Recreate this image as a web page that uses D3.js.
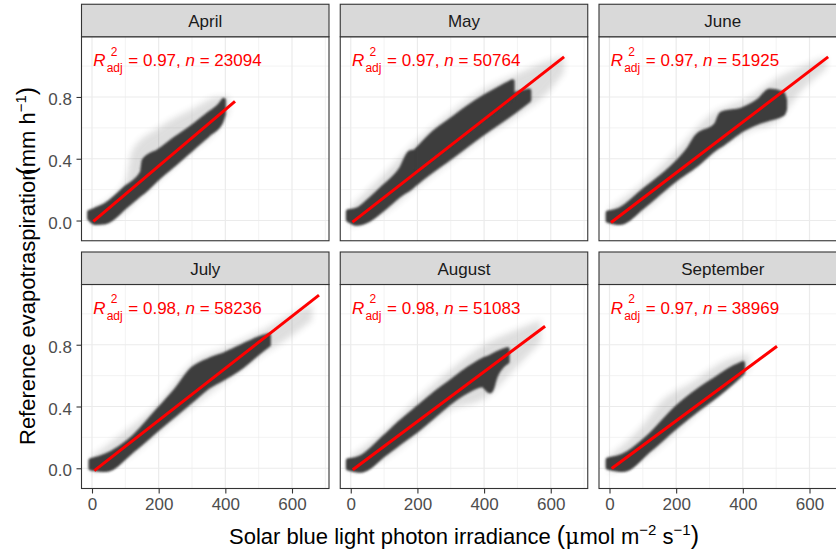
<!DOCTYPE html>
<html>
<head>
<meta charset="utf-8">
<script src="https://cdn.jsdelivr.net/npm/d3@7"></script>
<style>
  body { margin: 0; background: #fff; }
  svg { display: block; font-family: "Liberation Sans", Arial, sans-serif; }
</style>
</head>
<body>
<svg id="chart" width="836" height="553"></svg>
<script>
// values
var months = ["April", "May", "June", "July", "August", "September"];
var r2adj = ["0.97", "0.97", "0.97", "0.98", "0.98", "0.97"];
var nObs = ["23094", "50764", "51925", "58236", "51083", "38969"];
var xTicks = [0, 200, 400, 600];
var yTicks = [0.0, 0.4, 0.8];
var xMinor = [100, 300, 500, 700];
var yMinor = [0.2, 0.6, 1.0];

// fitted line ends [x, y]
var fitStart = [[4, -0.006], [5, -0.01], [4.5, -0.013], [7, -0.015], [6, -0.01], [6.5, -0.002]];
var fitEnd = [[429, 0.772], [640, 1.06], [656, 1.06], [681, 1.121], [583, 0.92], [502.5, 0.79]];

// dense point clouds as [x, low, high]
var aprilCore = [[-8, 0.015, 0.055], [10, -0.015, 0.07], [40, -0.01, 0.1], [100, 0.09, 0.21], [150, 0.18, 0.31], [156, 0.19, 0.39], [200, 0.28, 0.45], [250, 0.37, 0.53], [300, 0.465, 0.605], [350, 0.56, 0.69], [385, 0.63, 0.75], [395, 0.69, 0.78]];
var mayCore = [[-8, 0.005, 0.058], [20, -0.02, 0.07], [50, 0.0, 0.12], [100, 0.08, 0.22], [150, 0.17, 0.33], [178, 0.21, 0.44], [200, 0.25, 0.45], [300, 0.41, 0.6], [400, 0.57, 0.74], [480, 0.69, 0.81], [535, 0.78, 0.84]];
var mayUpper = [[200, 0.34, 0.46], [250, 0.42, 0.57], [300, 0.5, 0.65], [350, 0.58, 0.73], [400, 0.67, 0.8], [450, 0.74, 0.86], [485, 0.8, 0.9]];
var juneCore = [[-5, 0.0, 0.05], [30, -0.015, 0.07], [100, 0.09, 0.19], [200, 0.27, 0.37], [240, 0.33, 0.47], [260, 0.36, 0.54], [320, 0.47, 0.62], [335, 0.49, 0.69], [400, 0.59, 0.72], [450, 0.64, 0.78], [480, 0.66, 0.84], [520, 0.69, 0.82], [526, 0.72, 0.78]];
var julyCore = [[-4, 0.0, 0.05], [40, -0.01, 0.08], [124, 0.12, 0.2], [200, 0.26, 0.38], [250, 0.35, 0.5], [300, 0.44, 0.64], [350, 0.53, 0.7], [400, 0.59, 0.74], [450, 0.66, 0.79], [500, 0.75, 0.84], [530, 0.8, 0.86]];
var augustCore = [[-8, 0.0, 0.05], [30, -0.015, 0.07], [100, 0.09, 0.2], [150, 0.17, 0.3], [200, 0.25, 0.39], [250, 0.34, 0.48], [300, 0.43, 0.56], [350, 0.5, 0.64], [395, 0.54, 0.7], [418, 0.5, 0.72], [435, 0.6, 0.74], [470, 0.69, 0.77]];
var septemberCore = [[-5, 0.005, 0.055], [40, -0.01, 0.08], [120, 0.12, 0.21], [200, 0.27, 0.39], [270, 0.39, 0.51], [320, 0.47, 0.58], [370, 0.56, 0.65], [400, 0.62, 0.68]];

// faint halo around each cloud as [x, low, high]
var aprilHaze = [[0, -0.03, 0.08], [100, 0.06, 0.25], [120, 0.1, 0.45], [200, 0.26, 0.6], [300, 0.45, 0.72], [380, 0.6, 0.8], [410, 0.7, 0.8]];
var mayHaze = [[0, -0.04, 0.09], [100, 0.05, 0.3], [200, 0.22, 0.52], [300, 0.38, 0.7], [400, 0.54, 0.85], [500, 0.68, 0.95], [600, 0.85, 1.04], [640, 0.96, 1.06]];
var juneHaze = [[0, -0.03, 0.08], [100, 0.06, 0.24], [200, 0.24, 0.45], [300, 0.42, 0.68], [420, 0.58, 0.8], [500, 0.64, 0.92], [580, 0.85, 1.0], [650, 0.98, 1.06]];
var julyHaze = [[0, -0.03, 0.08], [100, 0.06, 0.24], [200, 0.23, 0.42], [300, 0.4, 0.68], [400, 0.56, 0.78], [500, 0.72, 0.88], [600, 0.86, 1.0], [660, 0.96, 1.06]];
var augustHaze = [[0, -0.03, 0.08], [100, 0.06, 0.24], [200, 0.22, 0.45], [300, 0.38, 0.64], [400, 0.45, 0.8], [500, 0.66, 0.9], [570, 0.82, 0.96]];
var septemberHaze = [[0, -0.03, 0.08], [100, 0.06, 0.28], [150, 0.14, 0.42], [250, 0.33, 0.56], [350, 0.52, 0.7], [420, 0.64, 0.74]];

var cores = [[aprilCore], [mayCore, mayUpper], [juneCore], [julyCore], [augustCore], [septemberCore]];
var hazes = [aprilHaze, mayHaze, juneHaze, julyHaze, augustHaze, septemberHaze];

var svg = d3.select("#chart");
var panelW = 247.5, panelH = 204, stripH = 32.5;
var colLeft = [81.5, 340.25, 599];
var stripTop = [4.25, 252];

var defs = svg.append("defs");
defs.append("filter").attr("id", "haze").attr("x", "-20%").attr("y", "-20%").attr("width", "140%").attr("height", "140%")
  .append("feGaussianBlur").attr("stdDeviation", 3);
defs.append("filter").attr("id", "soft")
  .append("feGaussianBlur").attr("stdDeviation", 0.8);

var x = d3.scaleLinear().domain([-31.5, 711]).range([0, panelW]);
var y = d3.scaleLinear().domain([-0.131, 1.19]).range([panelH, 0]);

var area = d3.area()
  .x(function (d) { return x(d[0]); })
  .y0(function (d) { return y(d[1]); })
  .y1(function (d) { return y(d[2]); })
  .curve(d3.curveMonotoneX);

months.forEach(function (m, i) {
  var col = i % 3, row = Math.floor(i / 3);
  var left = colLeft[col], top = stripTop[row] + stripH;
  var g = svg.append("g").attr("transform", "translate(" + left + "," + top + ")");

  defs.append("clipPath").attr("id", "clip" + i)
    .append("rect").attr("width", panelW).attr("height", panelH);

  // grid
  var grid = g.append("g");
  grid.selectAll(".vmin").data(xMinor).enter().append("line")
    .attr("x1", x).attr("x2", x).attr("y1", 0).attr("y2", panelH)
    .attr("stroke", "#EBEBEB").attr("stroke-width", 0.6);
  grid.selectAll(".hmin").data(yMinor).enter().append("line")
    .attr("y1", y).attr("y2", y).attr("x1", 0).attr("x2", panelW)
    .attr("stroke", "#EBEBEB").attr("stroke-width", 0.6);
  grid.selectAll(".vmaj").data(xTicks).enter().append("line")
    .attr("x1", x).attr("x2", x).attr("y1", 0).attr("y2", panelH)
    .attr("stroke", "#EBEBEB").attr("stroke-width", 1.2);
  grid.selectAll(".hmaj").data(yTicks).enter().append("line")
    .attr("y1", y).attr("y2", y).attr("x1", 0).attr("x2", panelW)
    .attr("stroke", "#EBEBEB").attr("stroke-width", 1.2);

  var plot = g.append("g").attr("clip-path", "url(#clip" + i + ")");
  plot.append("path").datum(hazes[i]).attr("d", area)
    .attr("fill", "#404040").attr("opacity", 0.17).attr("filter", "url(#haze)");
  cores[i].forEach(function (band) {
    plot.append("path").datum(band).attr("d", area)
      .attr("fill", "#3d3d3d").attr("stroke", "#3d3d3d").attr("stroke-width", 4.5)
      .attr("stroke-linejoin", "round").attr("filter", "url(#soft)");
  });
  plot.append("line")
    .attr("x1", x(fitStart[i][0])).attr("y1", y(fitStart[i][1]))
    .attr("x2", x(fitEnd[i][0])).attr("y2", y(fitEnd[i][1]))
    .attr("stroke", "#FF0000").attr("stroke-width", 3);

  // R2 / n label anchored at x = 0, y = 1.0
  var lab = g.append("g").attr("transform", "translate(" + x(0) + "," + y(1.0) + ")")
    .attr("fill", "#FF0000");
  lab.append("text").attr("x", 1.3).attr("font-size", 17).attr("font-style", "italic").text("R");
  lab.append("text").attr("x", 14.7).attr("y", 6.3).attr("font-size", 12).text("adj");
  lab.append("text").attr("x", 18.7).attr("y", -10.5).attr("font-size", 12).text("2");
  var t = lab.append("text").attr("x", 36.3).attr("font-size", 17).attr("xml:space", "preserve");
  t.append("tspan").text("= " + r2adj[i] + ", ");
  t.append("tspan").attr("font-style", "italic").text("n");
  t.append("tspan").text(" = " + nObs[i]);

  // border
  g.append("rect").attr("width", panelW).attr("height", panelH)
    .attr("fill", "none").attr("stroke", "#333333").attr("stroke-width", 1.1);

  // strip
  var s = svg.append("g").attr("transform", "translate(" + left + "," + stripTop[row] + ")");
  s.append("rect").attr("width", panelW).attr("height", stripH)
    .attr("fill", "#D9D9D9").attr("stroke", "#333333").attr("stroke-width", 1.1);
  s.append("text").attr("x", panelW / 2).attr("y", stripH / 2 + 6.5)
    .attr("text-anchor", "middle").attr("font-size", 17).attr("fill", "#1A1A1A").text(m);

  if (col === 0) {
    var ya = g.append("g").call(d3.axisLeft(y).tickValues(yTicks).tickFormat(d3.format(".1f")).tickSize(5).tickPadding(4.5));
    ya.select(".domain").remove();
    ya.selectAll("line").attr("stroke", "#333333").attr("stroke-width", 1.1);
    ya.selectAll("text").attr("font-size", 17).attr("fill", "#4D4D4D")
      .attr("font-family", "Liberation Sans, Arial, sans-serif").attr("dy", "0.45em");
  }
  if (row === 1) {
    var xa = g.append("g").attr("transform", "translate(0," + panelH + ")")
      .call(d3.axisBottom(x).tickValues(xTicks).tickSize(5).tickPadding(4));
    xa.select(".domain").remove();
    xa.selectAll("line").attr("stroke", "#333333").attr("stroke-width", 1.1);
    xa.selectAll("text").attr("font-size", 17).attr("fill", "#4D4D4D")
      .attr("font-family", "Liberation Sans, Arial, sans-serif");
  }
});

// axis titles
var xt = svg.append("text").attr("x", (colLeft[0] + colLeft[2] + panelW) / 2).attr("y", 544)
  .attr("text-anchor", "middle").attr("font-size", 22).attr("fill", "#000");
xt.append("tspan").text("Solar blue light photon irradiance ");
xt.append("tspan").attr("font-size", 25).text("(");
xt.append("tspan").attr("font-family", "DejaVu Serif, serif").text("\u03bc");
xt.append("tspan").text("mol m");
xt.append("tspan").attr("font-size", 15).attr("dy", -9).text("\u22122");
xt.append("tspan").attr("dy", 9).text(" s");
xt.append("tspan").attr("font-size", 15).attr("dy", -9).text("\u22121");
xt.append("tspan").attr("dy", 9).attr("font-size", 25).text(")");

var yt = svg.append("text").attr("transform", "translate(35,445) rotate(-90)")
  .attr("font-size", 22).attr("fill", "#000");
yt.append("tspan").text("Reference evapotraspiration");
yt.append("tspan").attr("dx", -7).attr("font-size", 25).text("(");
yt.append("tspan").text("mm h");
yt.append("tspan").attr("font-size", 15).attr("dy", -9).text("\u22121");
yt.append("tspan").attr("dy", 9).attr("font-size", 25).text(")");
</script>
</body>
</html>
